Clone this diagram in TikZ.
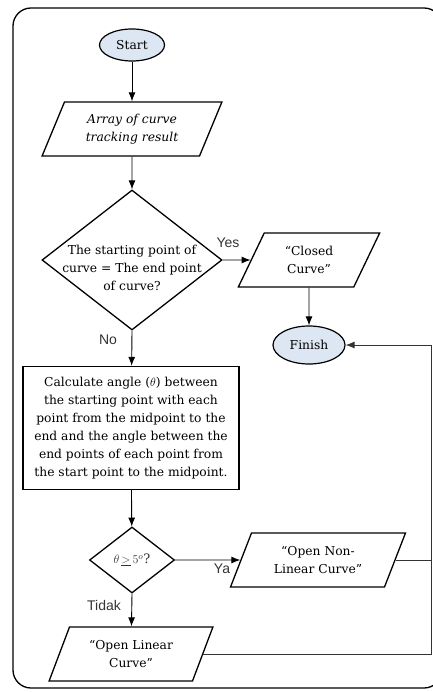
\documentclass[tikz,border=0pt]{standalone}
\usepackage{fontspec}
\setmainfont{DejaVu Serif}
\newfontfamily\lblfont{Liberation Sans}
\usetikzlibrary{shapes.geometric, arrows, arrows.meta, positioning}
\definecolor{termblue}{RGB}{221,231,243}
\tikzstyle{arrow} = [line width=0.9pt,->,>={Latex[length=9pt,width=7pt]}]
\tikzstyle{line} = [line width=0.9pt, draw=black!80]
\tikzstyle{terminal} = [ellipse, draw=black, fill=termblue, line width=1.2pt, minimum width=65pt, minimum height=32pt, inner sep=0pt]
\tikzstyle{io} = [trapezium, trapezium left angle=63, trapezium right angle=117, trapezium stretches=true, draw=black, line width=1.3pt, minimum height=54pt, inner sep=0pt, align=center]
\tikzstyle{decision} = [diamond, draw=black, line width=1.3pt, inner sep=0pt]
\tikzstyle{process} = [rectangle, draw=black, line width=1.3pt, minimum width=216pt, minimum height=123pt, inner sep=0pt, align=center]
\tikzstyle{yn} = [font=\lblfont\fontsize{14}{16}\selectfont, text=black!80]
\tikzset{every node/.style={font=\fontsize{12.3}{18}\selectfont}}

\begin{document}
\begin{tikzpicture}[x=1pt, y=-1pt]
\useasboundingbox (0,0) rectangle (432,692);
% outer frame
\draw[line width=1.3pt, rounded corners=18pt] (13,8) rectangle (442,688);

% Placement of flowchart nodes
\node (term1) [terminal] at (132,45) {Start};
\node (io1) [io, minimum width=180pt] at (132,129) {\itshape Array of curve\\\itshape tracking result};
\node (dec1) [decision, minimum width=180pt, minimum height=140pt,
  label={[align=center, yshift=-8pt]center:The starting point of\\curve = The end point\\of curve?}] at (132,260) {};
\node (io2) [io, minimum width=142pt] at (309,260) {“Closed\\Curve”};
\node (term2) [terminal, minimum width=72pt, minimum height=38pt] at (309,345) {Finish};
\node (proc1) [process] at (131,428) {Calculate angle ($\theta$) between\\the starting point with each\\point from the midpoint to the\\end and the angle between the\\end points of each point from\\the start point to the midpoint.};
\node (dec2) [decision, minimum width=85pt, minimum height=66pt,
  label={[text=black!80, font=\fontsize{13}{15}\selectfont]center:$\theta\,\underline{>}\,5^{o}$?}] at (132,560) {};
\node (io3) [io, minimum width=175pt] at (318,560) {“Open Non-\\Linear Curve”};
\node (io4) [io, minimum width=164pt] at (131,654) {“Open Linear\\Curve”};
\coordinate (rside) at (431,0);

% Drawing of Lines
\draw [arrow] (term1) -- (io1);
\draw [arrow] (io1) -- (dec1);
\draw [arrow] (dec1.east) -- (io2);
\draw [arrow] (io2) -- (term2);
\draw [arrow] (dec1.south) -- (proc1);
\draw [arrow] (proc1) -- (dec2);
\draw [arrow] (dec2.east) -- (io3);
\draw [arrow] (dec2.south) -- (io4);
\draw [line] (io3.east) -- (io3.east -| rside);
\draw [line, ->, >={Latex[length=9pt,width=7pt]}] (io4.east) -- (io4.east -| rside) |- (term2.east);

% branch labels
\node (yes) [yn] at (228,243) {Yes};
\node (no) [yn] at (108,340) {No};
\node (ya) [yn] at (222,569) {Ya};
\node (tidak) [yn] at (104,605) {Tidak};
\end{tikzpicture}
\end{document}
